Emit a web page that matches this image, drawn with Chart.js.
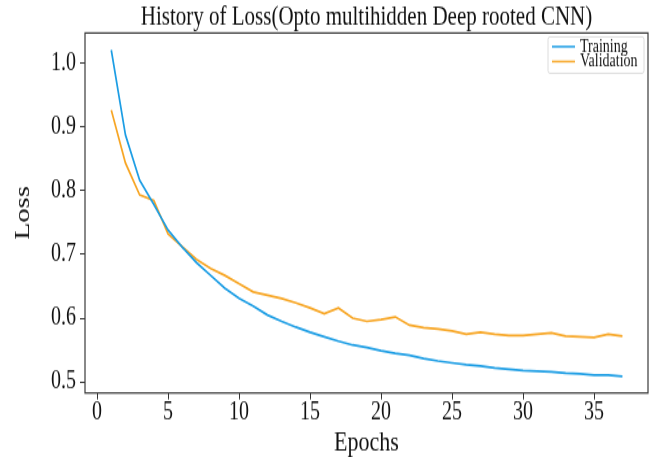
<!DOCTYPE html>
<html>
<head>
<meta charset="utf-8">
<script src="https://cdn.jsdelivr.net/npm/chart.js@4"></script>
<style>
  html, body { margin: 0; padding: 0; background: #fff; }
  body { width: 654px; height: 457px; overflow: hidden; }
  /* figure is drawn a bit shorter, then stretched to full height */
  #wrap { width: 654px; height: 352px; transform: scaleY(1.2983); transform-origin: 0 0; }
</style>
</head>
<body>
<div id="wrap"><canvas id="lossChart" width="654" height="352"></canvas></div>
<script>
const epochs = [1, 2, 3, 4, 5, 6, 7, 8, 9, 10, 11, 12, 13, 14, 15, 16, 17, 18, 19,
  20, 21, 22, 23, 24, 25, 26, 27, 28, 29, 30, 31, 32, 33, 34, 35, 36, 37];
const trainLoss = [1.020, 0.887, 0.816, 0.778, 0.738, 0.711, 0.687, 0.667, 0.647, 0.631,
  0.619, 0.605, 0.595, 0.586, 0.578, 0.571, 0.564, 0.558, 0.554, 0.549,
  0.545, 0.542, 0.537, 0.533, 0.530, 0.527, 0.525, 0.522, 0.520, 0.518,
  0.517, 0.516, 0.514, 0.513, 0.511, 0.511, 0.509];
const valLoss = [0.926, 0.843, 0.793, 0.784, 0.732, 0.712, 0.692, 0.678, 0.667, 0.654,
  0.641, 0.636, 0.631, 0.624, 0.616, 0.607, 0.616, 0.600, 0.595, 0.598,
  0.602, 0.589, 0.585, 0.583, 0.580, 0.575, 0.578, 0.575, 0.573, 0.573,
  0.575, 0.577, 0.572, 0.571, 0.570, 0.575, 0.572];
const xTicks = [0, 5, 10, 15, 20, 25, 30, 35];
const yTicks = [0.5, 0.6, 0.7, 0.8, 0.9, 1.0];

const serif = "'Liberation Serif', 'Times New Roman', serif";

function points(vals) {
  return epochs.map((e, i) => ({ x: e, y: vals[i] }));
}

// box around the plot area, all four sides
const frame = {
  id: 'frame',
  afterDatasetsDraw(chart) {
    const a = chart.chartArea, ctx = chart.ctx;
    ctx.save();
    ctx.strokeStyle = '#3a3a3a';
    ctx.lineWidth = 1.2;
    ctx.strokeRect(a.left, a.top, a.right - a.left, a.bottom - a.top);
    ctx.restore();
  }
};

// legend in the upper right corner, inside the axes
const cornerLegend = {
  id: 'cornerLegend',
  afterDraw(chart) {
    const ctx = chart.ctx;
    const a = chart.chartArea;
    const x0 = a.right - 100, y0 = a.top + 3;
    ctx.save();
    ctx.fillStyle = 'rgba(255,255,255,0.8)';
    ctx.strokeStyle = '#dcdcdc';
    ctx.lineWidth = 1;
    ctx.beginPath();
    ctx.roundRect(x0, y0, 96, 28, 2);
    ctx.fill();
    ctx.stroke();
    ctx.font = '14px ' + serif;
    ctx.textBaseline = 'middle';
    chart.data.datasets.forEach((ds, i) => {
      const y = y0 + 7.5 + i * 11.5;
      ctx.strokeStyle = ds.borderColor;
      ctx.lineWidth = 1.5;
      ctx.beginPath();
      ctx.moveTo(x0 + 4, y);
      ctx.lineTo(x0 + 27, y);
      ctx.stroke();
      ctx.fillStyle = '#111';
      ctx.fillText(ds.label, x0 + 32, y);
    });
    ctx.restore();
  }
};

const ctx = document.getElementById('lossChart').getContext('2d');
const chart = new Chart(ctx, {
  type: 'line',
  data: {
    datasets: [
      {
        label: 'Training',
        data: points(trainLoss),
        borderColor: '#1c9de4',
        borderWidth: 1.7,
        pointRadius: 0,
        tension: 0
      },
      {
        label: 'Validation',
        data: points(valLoss),
        borderColor: '#f7a523',
        borderWidth: 1.7,
        pointRadius: 0,
        tension: 0
      }
    ]
  },
  options: {
    responsive: false,
    animation: false,
    devicePixelRatio: 1,
    layout: { padding: { left: 6, right: 6, top: 0, bottom: 0 } },
    plugins: {
      legend: { display: false },
      tooltip: { enabled: false },
      title: {
        display: true,
        fullSize: false,
        text: 'History of Loss(Opto multihidden Deep rooted CNN)',
        color: '#111',
        font: { family: serif, size: 21, weight: 'normal', lineHeight: 1.0 },
        padding: { top: 3, bottom: 1.4 }
      }
    },
    scales: {
      x: {
        type: 'linear',
        min: -0.85,
        max: 38.8,
        afterBuildTicks: (s) => { s.ticks = xTicks.map(v => ({ value: v })); },
        afterFit: (s) => { s.height = 49.3; },
        border: { display: false },
        grid: { drawOnChartArea: false, tickLength: 5, tickColor: '#333', tickWidth: 1 },
        ticks: {
          color: '#111',
          padding: 0,
          maxRotation: 0,
          font: { family: serif, size: 20, lineHeight: 1.0 },
          callback: (v) => String(v)
        },
        title: {
          display: true,
          text: 'Epochs',
          color: '#111',
          font: { family: serif, size: 22, lineHeight: 1.0 },
          padding: { top: 0, bottom: 0 }
        }
      },
      y: {
        min: 0.4828,
        max: 1.0466,
        afterBuildTicks: (s) => { s.ticks = yTicks.map(v => ({ value: v })); },
        afterFit: (s) => { s.width = 79; },
        border: { display: false },
        grid: { drawOnChartArea: false, tickLength: 5, tickColor: '#333', tickWidth: 1 },
        ticks: {
          color: '#111',
          padding: 4,
          font: { family: serif, size: 20 },
          callback: (v) => Number(v).toFixed(1)
        },
        title: {
          display: true,
          text: 'Loss',
          color: '#111',
          font: { family: serif, size: 22 },
          padding: { top: 4, bottom: 0 }
        }
      }
    }
  },
  plugins: [frame, cornerLegend]
});
</script>
</body>
</html>
